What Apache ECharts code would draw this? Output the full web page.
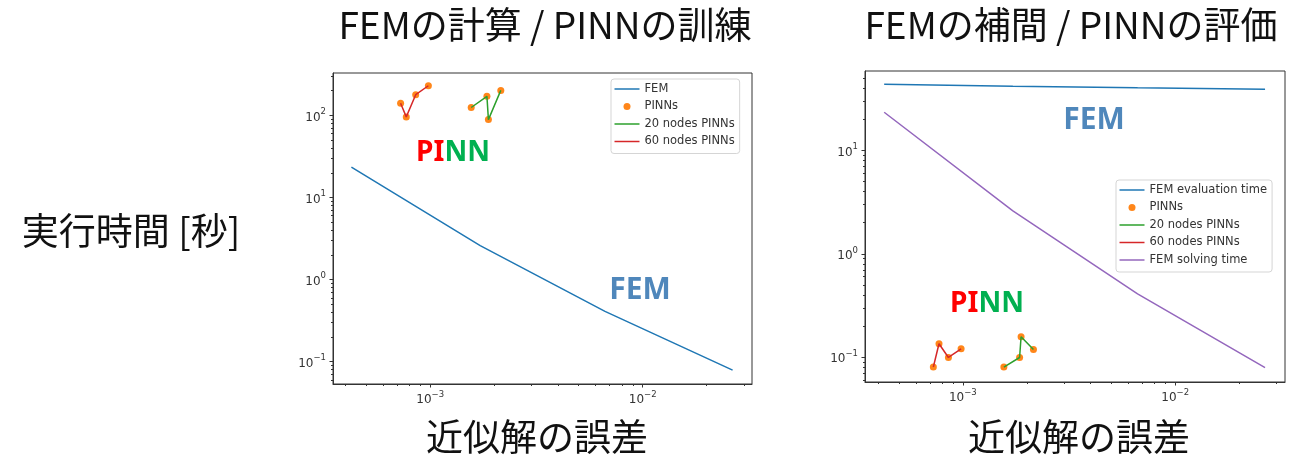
<!DOCTYPE html>
<html>
<head>
<meta charset="utf-8">
<script src="https://cdn.jsdelivr.net/npm/echarts@6/dist/echarts.min.js"></script>
<style>
html,body{margin:0;padding:0;background:#fff;}
#chart{width:1289px;height:459px;}
</style>
</head>
<body>
<div id="chart"></div>
<script>
// ---- data ----
const femErr = [4.26e-4, 1.72e-3, 6.65e-3, 2.65e-2];
const femSolveTime = [23.5, 2.6, 0.41, 0.079];
const femEvalTime = [44, 42, 40.5, 39.3];

const pinn60Err = [7.26e-4, 7.72e-4, 8.55e-4, 9.81e-4];
const pinn60TrainTime = [141, 96, 179, 230];
const pinn60EvalTime = [0.080, 0.1345, 0.099, 0.120];

const pinn20Err = [1.56e-3, 1.85e-3, 1.88e-3, 2.15e-3];
const pinn20TrainTime = [125, 171, 89, 202];
const pinn20EvalTime = [0.080, 0.099, 0.157, 0.1185];

// ---- tick labels ----
const xMajorTicks = [1e-3, 1e-2];
const xMinorTicks = [4e-4,5e-4,6e-4,7e-4,8e-4,9e-4,2e-3,3e-3,4e-3,5e-3,6e-3,7e-3,8e-3,9e-3,2e-2,3e-2];
const yMajorTicksTrain = [0.1, 1, 10, 100];
const yMinorTicksTrain = [0.06,0.07,0.08,0.09,0.2,0.3,0.4,0.5,0.6,0.7,0.8,0.9,2,3,4,5,6,7,8,9,20,30,40,50,60,70,80,90,200,300];
const yMajorTicksEval = [0.1, 1, 10];
const yMinorTicksEval = [0.06,0.07,0.08,0.09,0.2,0.3,0.4,0.5,0.6,0.7,0.8,0.9,2,3,4,5,6,7,8,9,20,30,40,50];

// ---- texts ----
const titleTrain = 'FEMの計算 / PINNの訓練';
const titleEval = 'FEMの補間 / PINNの評価';
const yName = '実行時間 [秒]';
const xName = '近似解の誤差';
const legendTrain = ['FEM', 'PINNs', '20 nodes PINNs', '60 nodes PINNs'];
const legendEval = ['FEM evaluation time', 'PINNs', '20 nodes PINNs', '60 nodes PINNs', 'FEM solving time'];

const zip = (a, b) => a.map((v, i) => [v, b[i]]);

const C_BLUE = '#1f77b4', C_ORANGE = '#ff7f0e', C_GREEN = '#2ca02c', C_RED = '#d62728', C_PURPLE = '#9467bd';
const axisColor = '#333';
const tickFont = 'DejaVu Sans';

function powLabel(v) {
  const e = Math.round(Math.log10(v));
  const es = e < 0 ? '\u2212' + (-e) : String(e);
  return '{b|10}{s|' + es + '}';
}
const richPow = {
  b: {fontSize: 12, fontFamily: tickFont, color: axisColor, lineHeight: 16, verticalAlign: 'bottom'},
  s: {fontSize: 8.5, fontFamily: tickFont, color: axisColor, lineHeight: 16, verticalAlign: 'top'}
};

const X_RANGE = [[3.49e-4, 0.0327], [3.46e-4, 0.0329]];
const Y_RANGE = [[0.0535, 329], [0.0573, 59]];

function xAxes(g) {
  return [
    {type: 'log', logBase: 10, gridIndex: g, min: X_RANGE[g][0], max: X_RANGE[g][1], position: 'bottom',
     splitLine: {show: false},
     axisLine: {show: true, lineStyle: {color: axisColor, width: 1}},
     axisTick: {show: true, length: 3.5, customValues: xMajorTicks, lineStyle: {color: axisColor}},
     axisLabel: {show: true, margin: 6, customValues: xMajorTicks, formatter: powLabel, rich: richPow}},
    {type: 'log', logBase: 10, gridIndex: g, min: X_RANGE[g][0], max: X_RANGE[g][1], position: 'bottom',
     splitLine: {show: false},
     axisLine: {show: false},
     axisTick: {show: true, length: 2, customValues: xMinorTicks, lineStyle: {color: axisColor}},
     axisLabel: {show: false}}
  ];
}
function yAxes(g, major, minor) {
  return [
    {type: 'log', logBase: 10, gridIndex: g, min: Y_RANGE[g][0], max: Y_RANGE[g][1], position: 'left',
     splitLine: {show: false},
     axisLine: {show: true, lineStyle: {color: axisColor, width: 1}},
     axisTick: {show: true, length: 3.5, customValues: major, lineStyle: {color: axisColor}},
     axisLabel: {show: true, margin: 7, customValues: major, formatter: powLabel, rich: richPow}},
    {type: 'log', logBase: 10, gridIndex: g, min: Y_RANGE[g][0], max: Y_RANGE[g][1], position: 'left',
     splitLine: {show: false},
     axisLine: {show: false},
     axisTick: {show: true, length: 2, customValues: minor, lineStyle: {color: axisColor}},
     axisLabel: {show: false}}
  ];
}

function lineSeries(name, xi, yi, data, color, z) {
  return {name, type: 'line', xAxisIndex: xi, yAxisIndex: yi, data, symbol: 'none', showSymbol: false,
    lineStyle: {color, width: 1.5}, itemStyle: {color}, z: z || 3, animation: false};
}
function scatterSeries(name, xi, yi, data) {
  return {name, type: 'scatter', xAxisIndex: xi, yAxisIndex: yi, data, symbol: 'circle', symbolSize: 7,
    itemStyle: {color: C_ORANGE, opacity: 0.95}, z: 2, animation: false};
}

const LINE_ICON = 'path://M0,0M0,2.75L25,2.75L25,4.25L0,4.25ZM25,7';
function legendData(names) {
  return names.map(n => n === 'PINNs' ? {name: n, icon: 'circle'} : {name: n, icon: LINE_ICON});
}

const legendCommon = {
  orient: 'vertical', itemWidth: 25, itemHeight: 7, itemGap: 3.5, itemTextGap: 9,
  borderColor: '#d5d5d5', borderWidth: 1, borderRadius: 3, backgroundColor: 'rgba(255,255,255,0.85)',
  textStyle: {fontSize: 11.5, fontFamily: tickFont, color: '#333', lineHeight: 14},
  selectedMode: false
};

const cjk = "'Noto Sans CJK JP'";
const annFont = "'Noto Sans', 'Noto Sans CJK JP'";

const option = {
  backgroundColor: '#fff',
  animation: false,
  grid: [
    {left: 333, top: 73, width: 419, height: 311, show: true, borderColor: axisColor, borderWidth: 1, backgroundColor: 'transparent'},
    {left: 865, top: 71, width: 420, height: 311, show: true, borderColor: axisColor, borderWidth: 1, backgroundColor: 'transparent'}
  ],
  xAxis: [...xAxes(0), ...xAxes(1)],
  yAxis: [...yAxes(0, yMajorTicksTrain, yMinorTicksTrain), ...yAxes(1, yMajorTicksEval, yMinorTicksEval)],
  legend: [
    Object.assign({}, legendCommon, {left: 611, top: 79, padding: [3, 5, 5, 3.5], data: legendData(legendTrain)}),
    Object.assign({}, legendCommon, {left: 1116, top: 180, padding: [3, 5, 5, 3.5], data: legendData(legendEval)})
  ],
  series: [
    lineSeries('FEM', 0, 0, zip(femErr, femSolveTime), C_BLUE),
    scatterSeries('PINNs', 0, 0, zip(pinn60Err, pinn60TrainTime).concat(zip(pinn20Err, pinn20TrainTime))),
    lineSeries('20 nodes PINNs', 0, 0, zip(pinn20Err, pinn20TrainTime), C_GREEN),
    lineSeries('60 nodes PINNs', 0, 0, zip(pinn60Err, pinn60TrainTime), C_RED),

    lineSeries('FEM evaluation time', 2, 2, zip(femErr, femEvalTime), C_BLUE),
    scatterSeries('PINNs', 2, 2, zip(pinn60Err, pinn60EvalTime).concat(zip(pinn20Err, pinn20EvalTime))),
    lineSeries('20 nodes PINNs', 2, 2, zip(pinn20Err, pinn20EvalTime), C_GREEN),
    lineSeries('60 nodes PINNs', 2, 2, zip(pinn60Err, pinn60EvalTime), C_RED),
    lineSeries('FEM solving time', 2, 2, zip(femErr, femSolveTime), C_PURPLE)
  ],
  graphic: [
    {type: 'text', x: 545, y: 25, style: {text: titleTrain, font: "37px " + cjk, fill: '#111', align: 'center', verticalAlign: 'middle'}},
    {type: 'text', x: 1071, y: 25, style: {text: titleEval, font: "37px " + cjk, fill: '#111', align: 'center', verticalAlign: 'middle'}},
    {type: 'text', x: 131, y: 231, style: {text: yName, font: "37px " + cjk, fill: '#111', align: 'center', verticalAlign: 'middle'}},
    {type: 'text', x: 537, y: 437, style: {text: xName, font: "37px " + cjk, fill: '#111', align: 'center', verticalAlign: 'middle'}},
    {type: 'text', x: 1079, y: 437, style: {text: xName, font: "37px " + cjk, fill: '#111', align: 'center', verticalAlign: 'middle'}},
    {type: 'text', x: 640, y: 290, style: {text: 'FEM', font: "bold 30px " + annFont, fill: '#4f87bb', align: 'center', verticalAlign: 'middle'}},
    {type: 'text', x: 1094, y: 120, style: {text: 'FEM', font: "bold 30px " + annFont, fill: '#4f87bb', align: 'center', verticalAlign: 'middle'}},
    {type: 'text', x: 453, y: 153, style: {text: '{r|PI}{g|NN}', align: 'center', verticalAlign: 'middle',
      rich: {r: {fill: '#ff0000', font: "bold 28px " + annFont}, g: {fill: '#00b050', font: "bold 28px " + annFont}}}},
    {type: 'text', x: 987, y: 304, style: {text: '{r|PI}{g|NN}', align: 'center', verticalAlign: 'middle',
      rich: {r: {fill: '#ff0000', font: "bold 28px " + annFont}, g: {fill: '#00b050', font: "bold 28px " + annFont}}}}
  ]
};

const chart = echarts.init(document.getElementById('chart'), null, {renderer: 'canvas'});
chart.setOption(option);
</script>
</body>
</html>
